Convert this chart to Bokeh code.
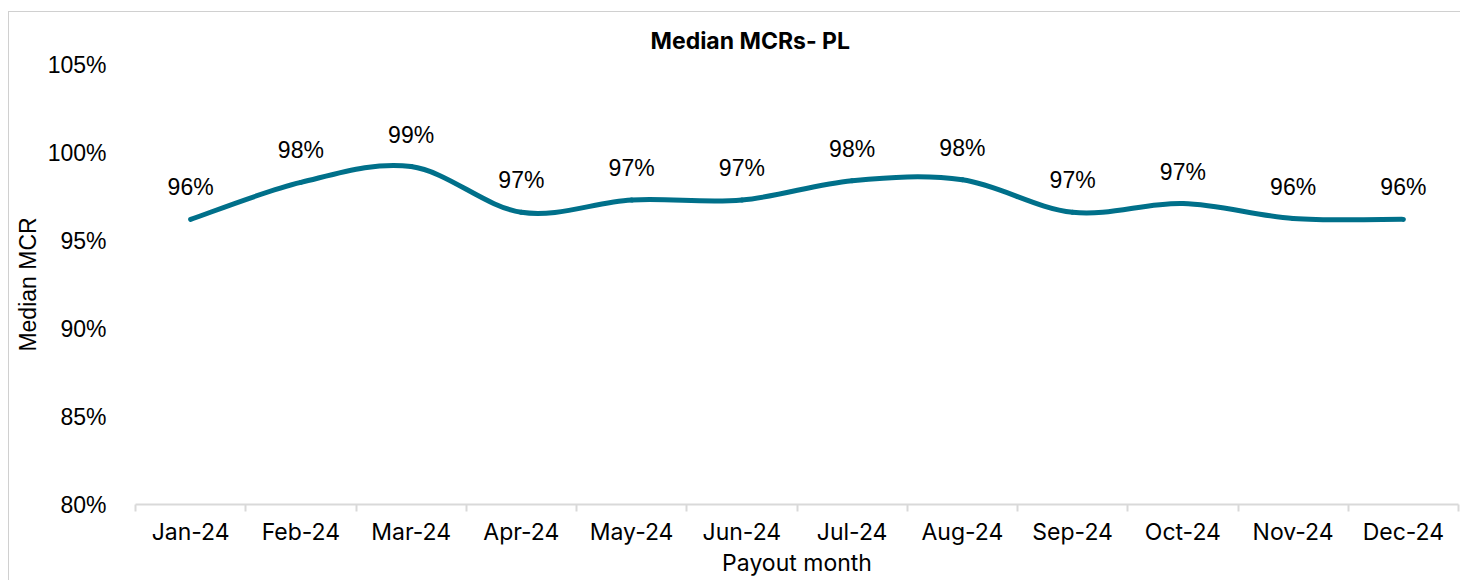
import numpy as np
from bokeh.plotting import figure
from bokeh.models import FixedTicker, Range1d, ColumnDataSource, NumeralTickFormatter
from bokeh.core.properties import value
from bokeh.embed import file_html
from bokeh.resources import INLINE

# ---- data ----
months = ["Jan-24", "Feb-24", "Mar-24", "Apr-24", "May-24", "Jun-24",
          "Jul-24", "Aug-24", "Sep-24", "Oct-24", "Nov-24", "Dec-24"]
median_mcr = [0.962, 0.983, 0.992, 0.966, 0.973, 0.973,
              0.984, 0.9845, 0.966, 0.971, 0.9625, 0.962]
y_ticks = [0.80, 0.85, 0.90, 0.95, 1.00, 1.05]
title_text = "Median MCRs- PL"
x_title = "Payout month"
y_title = "Median MCR"

LINE_COLOR = "#00708A"
AXIS_GRAY = "#d9d9d9"

n = len(months)
xs = list(range(n))

p = figure(width=1452, height=569, output_backend="svg", toolbar_location=None,
           x_range=Range1d(-0.5, n - 0.5), y_range=Range1d(y_ticks[0], y_ticks[-1]),
           min_border_left=126, min_border_right=3, min_border_top=52,
           min_border_bottom=77)
p.styles = {"border-top": "1px solid #d0d0d0", "border-left": "1px solid #d0d0d0",
            "margin-top": "11px", "margin-left": "8px", "margin-bottom": "-22px"}
p.outline_line_color = None
p.xgrid.visible = False
p.ygrid.visible = False
p.background_fill_color = "white"
p.border_fill_color = "white"

# title
p.title.text = title_text
p.title.text_font = "Inter"
p.title.text_font_style = "bold"
p.title.text_font_size = "23px"
p.title.text_color = "#000000"
p.title.align = "left"
p.title.offset = 515
p.title.vertical_align = "bottom"
p.title.standoff = 20

# smooth (Catmull-Rom style bezier) line from the data points
x0, y0, x1, y1, cx0, cy0, cx1, cy1 = [], [], [], [], [], [], [], []
for i in range(n - 1):
    pm = median_mcr[i - 1] if i > 0 else median_mcr[i]
    pa = median_mcr[i]
    pb = median_mcr[i + 1]
    pn = median_mcr[i + 2] if i + 2 < n else median_mcr[i + 1]
    xm = xs[i - 1] if i > 0 else xs[i]
    xn = xs[i + 2] if i + 2 < n else xs[i + 1]
    x0.append(xs[i]); y0.append(pa)
    x1.append(xs[i + 1]); y1.append(pb)
    cx0.append(xs[i] + (xs[i + 1] - xm) / 6.0); cy0.append(pa + (pb - pm) / 6.0)
    cx1.append(xs[i + 1] - (xn - xs[i]) / 6.0); cy1.append(pb - (pn - pa) / 6.0)

p.bezier(x0=x0, y0=y0, x1=x1, y1=y1, cx0=cx0, cy0=cy0, cx1=cx1, cy1=cy1,
         line_color=LINE_COLOR, line_width=5, line_cap="round")

# data labels
src = ColumnDataSource(dict(x=xs, y=median_mcr,
                            t=[f"{v * 100:.0f}%" for v in median_mcr]))
p.text(x="x", y="y", text="t", source=src, text_align="center",
       text_baseline="middle", y_offset=-32, text_font=value("Liberation Sans"),
       text_font_size="23px", text_color="#000000")

# x axis
xa = p.xaxis[0]
xa.ticker = FixedTicker(ticks=xs, minor_ticks=[i - 0.5 for i in range(n + 1)])
xa.major_label_overrides = {i: m for i, m in enumerate(months)}
xa.major_tick_out = 0
xa.major_tick_in = 0
xa.minor_tick_out = 7
xa.minor_tick_in = 0
xa.minor_tick_line_color = AXIS_GRAY
xa.minor_tick_line_width = 2
xa.axis_line_color = AXIS_GRAY
xa.axis_line_width = 2
xa.major_label_text_font = "Inter"
xa.major_label_text_font_size = "23px"
xa.major_label_text_color = "#000000"
xa.major_label_standoff = 6
xa.axis_label = x_title
xa.axis_label_text_font = "Inter"
xa.axis_label_text_font_size = "23px"
xa.axis_label_text_font_style = "normal"
xa.axis_label_text_color = "#000000"
xa.axis_label_standoff = 0

# y axis
ya = p.yaxis[0]
ya.ticker = FixedTicker(ticks=y_ticks)
ya.formatter = NumeralTickFormatter(format="0%")
ya.axis_line_color = None
ya.major_tick_line_color = None
ya.minor_tick_line_color = None
ya.major_label_text_font = "Liberation Sans"
ya.major_label_text_font_size = "23px"
ya.major_label_text_color = "#000000"
ya.major_label_standoff = 23
ya.axis_label = y_title
ya.axis_label_text_font = "Liberation Sans"
ya.axis_label_text_font_size = "23px"
ya.axis_label_text_font_style = "normal"
ya.axis_label_text_color = "#000000"
ya.axis_label_standoff = 4

open("out.html", "w").write(file_html(p, INLINE))
